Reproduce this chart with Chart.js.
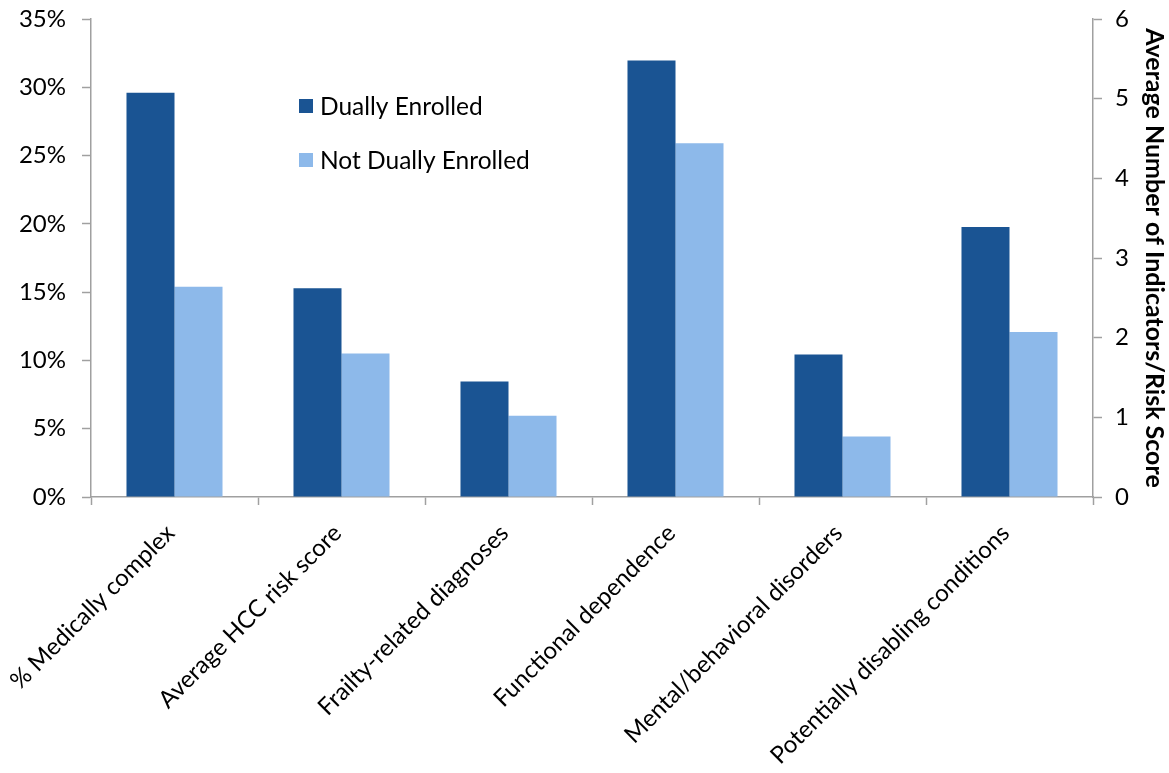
<!DOCTYPE html>
<html>
<head>
<meta charset="utf-8">
<script src="https://cdn.jsdelivr.net/npm/chart.js@4/dist/chart.umd.min.js"></script>
<style>
  html, body { margin: 0; padding: 0; background: #fff; }
  #wrap { width: 1169px; height: 773px; position: relative; }
</style>
</head>
<body>
<div id="wrap"><canvas id="c" width="1169" height="773"></canvas></div>
<script>
// Categories along the x axis
const categories = [
  '% Medically complex',
  'Average HCC risk score',
  'Frailty-related diagnoses',
  'Functional dependence',
  'Mental/behavioral disorders',
  'Potentially disabling conditions'
];

// Share of beneficiaries (left axis, %) — first category only
const duallyPct    = [29.6, null, null, null, null, null];
const notDuallyPct = [15.4, null, null, null, null, null];

// Average number of indicators / risk score (right axis)
const duallyAvg    = [null, 2.62, 1.45, 5.48, 1.79, 3.39];
const notDuallyAvg = [null, 1.80, 1.02, 4.44, 0.76, 2.07];

const seriesNames = ['Dually Enrolled', 'Not Dually Enrolled'];
const pctTicks = [0, 5, 10, 15, 20, 25, 30, 35];
const avgTicks = [0, 1, 2, 3, 4, 5, 6];
const rightTitle = 'Average Number of Indicators/Risk Score';

const DARK = '#1a5493';
const LIGHT = '#8db9ea';
const AXIS = '#a0a0a0';
const FONT = 'Lato, "Open Sans", sans-serif';

// In-plot legend with square swatches
const innerLegend = {
  id: 'innerLegend',
  afterDraw(chart) {
    const ctx = chart.ctx;
    const items = [
      { text: seriesNames[0], color: DARK, y: 106 },
      { text: seriesNames[1], color: LIGHT, y: 160 }
    ];
    ctx.save();
    ctx.font = '24.5px ' + FONT;
    ctx.textBaseline = 'middle';
    ctx.textAlign = 'left';
    items.forEach(it => {
      ctx.fillStyle = it.color;
      ctx.fillRect(299, it.y - 7, 14, 14);
      ctx.fillStyle = '#000';
      ctx.fillText(it.text, 320, it.y + 1);
    });
    ctx.restore();
  }
};

function fixWidth(w) {
  return s => { s.width = w; s.paddingTop = 0; s.paddingBottom = 0; };
}

new Chart(document.getElementById('c'), {
  type: 'bar',
  data: {
    labels: categories,
    datasets: [
      { label: seriesNames[0], data: duallyPct, yAxisID: 'y', backgroundColor: DARK },
      { label: seriesNames[1], data: notDuallyPct, yAxisID: 'y', backgroundColor: LIGHT },
      { label: seriesNames[0], data: duallyAvg, yAxisID: 'y1', backgroundColor: DARK },
      { label: seriesNames[1], data: notDuallyAvg, yAxisID: 'y1', backgroundColor: LIGHT }
    ]
  },
  options: {
    responsive: false,
    animation: false,
    devicePixelRatio: 1,
    layout: { padding: { top: 19, left: 0, right: 0, bottom: 0 } },
    datasets: {
      bar: {
        skipNull: true,
        categoryPercentage: 0.575,
        barPercentage: 1.0,
        borderWidth: 0
      }
    },
    plugins: {
      legend: { display: false },
      tooltip: { enabled: false }
    },
    scales: {
      x: {
        grid: {
          display: true,
          drawOnChartArea: false,
          drawTicks: true,
          tickLength: 8,
          tickColor: AXIS,
          tickWidth: 1.5,
          offset: true
        },
        border: { color: AXIS, width: 1.5 },
        ticks: {
          color: '#000',
          font: { family: FONT, size: 24 },
          maxRotation: 45,
          minRotation: 45,
          padding: 14,
          labelOffset: -4,
          autoSkip: false
        },
        afterFit: s => { s.height = 276; s.paddingLeft = 0; s.paddingRight = 0; }
      },
      y: {
        position: 'left',
        min: 0,
        max: 35,
        afterBuildTicks: s => { s.ticks = pctTicks.map(v => ({ value: v })); },
        grid: {
          drawOnChartArea: false,
          drawTicks: true,
          tickLength: 9,
          tickColor: AXIS,
          tickWidth: 1.5
        },
        border: { color: AXIS, width: 1.5 },
        ticks: {
          color: '#000',
          font: { family: FONT, size: 24 },
          padding: 16,
          callback: v => v + '%'
        },
        afterFit: fixWidth(91)
      },
      y1: {
        position: 'right',
        min: 0,
        max: 6,
        afterBuildTicks: s => { s.ticks = avgTicks.map(v => ({ value: v })); },
        grid: {
          drawOnChartArea: false,
          drawTicks: true,
          tickLength: 9,
          tickColor: AXIS,
          tickWidth: 1.5
        },
        border: { color: AXIS, width: 1.5 },
        ticks: {
          color: '#000',
          font: { family: FONT, size: 24 },
          padding: 13
        },
        title: {
          display: true,
          text: rightTitle,
          color: '#000',
          font: { family: FONT, size: 25, weight: 'bold' },
          padding: { top: 0, bottom: 0 }
        },
        afterFit: fixWidth(76)
      }
    }
  },
  plugins: [innerLegend]
});
</script>
</body>
</html>
